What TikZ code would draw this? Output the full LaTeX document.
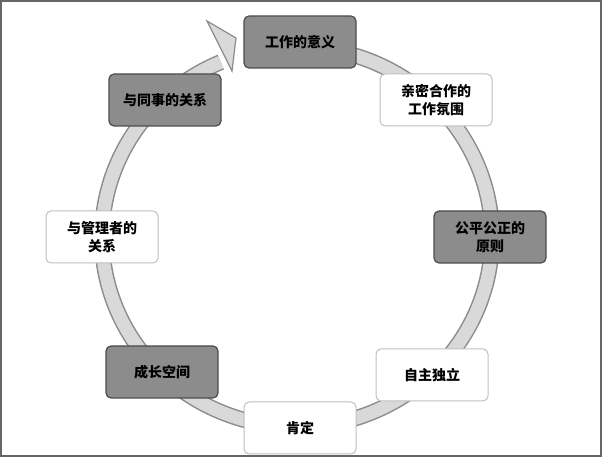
\documentclass[tikz,border=0pt]{standalone}
\usepackage{fontspec}
\setmainfont{Noto Sans CJK SC}
\usetikzlibrary{arrows.meta}
\begin{document}
\begin{tikzpicture}[x=1pt,y=1pt,
  dbox/.style={draw=black!70,line width=1.2pt,fill=black!45,rounded corners=5pt,minimum width=112pt,minimum height=52pt,align=center,font=\fontsize{14}{18}\selectfont\bfseries},
  lbox/.style={draw=black!25,line width=1pt,fill=white,rounded corners=5pt,minimum width=112pt,minimum height=52pt,align=center,font=\fontsize{14}{18}\selectfont\bfseries}]
\useasboundingbox (0,0) rectangle (602,457);
\draw[black!60,line width=1.5pt] (1,1) rectangle (601,456);
\coordinate (c) at (297,220);
% ring
\draw[black!45,line width=16pt] ([shift={(80:195 and 190)}]c) arc[start angle=80,end angle=-247,x radius=195,y radius=190];
\draw[black!15,line width=13pt] ([shift={(80:195 and 190)}]c) arc[start angle=80,end angle=-247,x radius=195,y radius=190];
\fill[black!15,draw=black!45,line width=1.2pt] (207,436) -- (236,419) -- (232,386) -- cycle;
\node[dbox] (a) at (300,415) {工作的意义};
\node[lbox] (b) at (436,357) {亲密合作的\\工作氛围};
\node[dbox] (c1) at (490,220) {公平公正的\\原则};
\node[lbox] (d) at (432,82) {自主独立};
\node[lbox] (e) at (300,29) {肯定};
\node[dbox] (f) at (162,85) {成长空间};
\node[lbox] (g) at (102,220) {与管理者的\\关系};
\node[dbox] (h) at (165,357) {与同事的关系};
\end{tikzpicture}
\end{document}
